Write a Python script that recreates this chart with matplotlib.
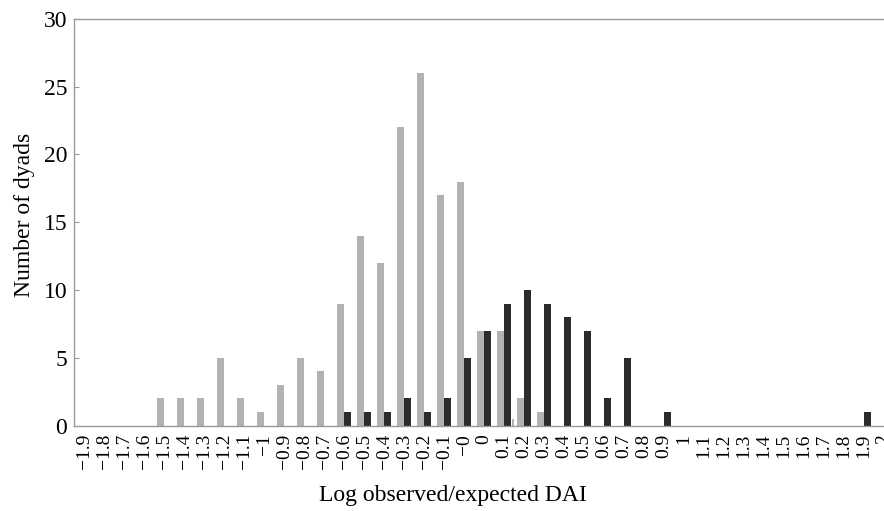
import numpy as np
import matplotlib.pyplot as plt

plt.rcParams["font.family"] = ["Liberation Serif", "DejaVu Serif"]

categories = (
    ["\u22121.9", "\u22121.8", "\u22121.7", "\u22121.6", "\u22121.5", "\u22121.4",
     "\u22121.3", "\u22121.2", "\u22121.1", "\u22121",
     "\u22120.9", "\u22120.8", "\u22120.7", "\u22120.6", "\u22120.5", "\u22120.4",
     "\u22120.3", "\u22120.2", "\u22120.1", "\u22120", "0",
     "0.1", "0.2", "0.3", "0.4", "0.5", "0.6", "0.7", "0.8", "0.9", "1",
     "1.1", "1.2", "1.3", "1.4", "1.5", "1.6", "1.7", "1.8", "1.9", "2"]
)
gray_counts = [0, 0, 0, 0, 2, 2, 2, 5, 2, 1,
               3, 5, 4, 9, 14, 12, 22, 26, 17, 18, 7,
               7, 2, 1, 0, 0, 0, 0, 0, 0, 0,
               0, 0, 0, 0, 0, 0, 0, 0, 0, 0]
black_counts = [0, 0, 0, 0, 0, 0, 0, 0, 0, 0,
                0, 0, 0, 1, 1, 1, 2, 1, 2, 5, 7,
                9, 10, 9, 8, 7, 2, 5, 0, 1, 0,
                0, 0, 0, 0, 0, 0, 0, 0, 1, 0]
# a faint sliver printed just right of the 0.1 group
stray_counts = [0.45 if c == "0.1" else 0 for c in categories]

W, H = 884, 511
fig = plt.figure(figsize=(W / 100, H / 100), dpi=100)
# plot area runs past the right edge (the original is cropped there)
ax = fig.add_axes([74 / W, (H - 425.5) / H, 820 / W, (425.5 - 19) / H])

x = np.arange(len(categories))
ax.bar(x - 0.33, gray_counts, width=0.33, align="edge", color="#b1b2b6")
ax.bar(x, black_counts, width=0.33, align="edge", color="#2b2b2b")
ax.bar(x + 0.38, stray_counts, width=0.1, align="edge", color="#b1b2b6")

ax.set_xlim(-0.5, len(categories) - 0.5)
ax.set_ylim(0, 30)
ax.set_yticks(range(0, 31, 5))
ax.set_xticks(x)
ax.set_xticklabels(categories, rotation=90, fontsize=14)

for s in ax.spines.values():
    s.set_color("#9a9a9a")
    s.set_linewidth(1.0)
ax.tick_params(axis="y", direction="in", length=3.6, color="#9a9a9a",
               labelsize=17, pad=5)
ax.tick_params(axis="x", length=0, pad=6)

ax.set_ylabel("Number of dyads", fontsize=17)
ax.set_xlabel("Log observed/expected DAI", fontsize=17)
ax.xaxis.set_label_coords((453 - 74) / 820, -(485 - 425.5) / (425.5 - 19))
ax.yaxis.set_label_coords(-(74 - 35) / 820, (425.5 - 215) / (425.5 - 19))

fig.savefig("out.png", dpi=100)
